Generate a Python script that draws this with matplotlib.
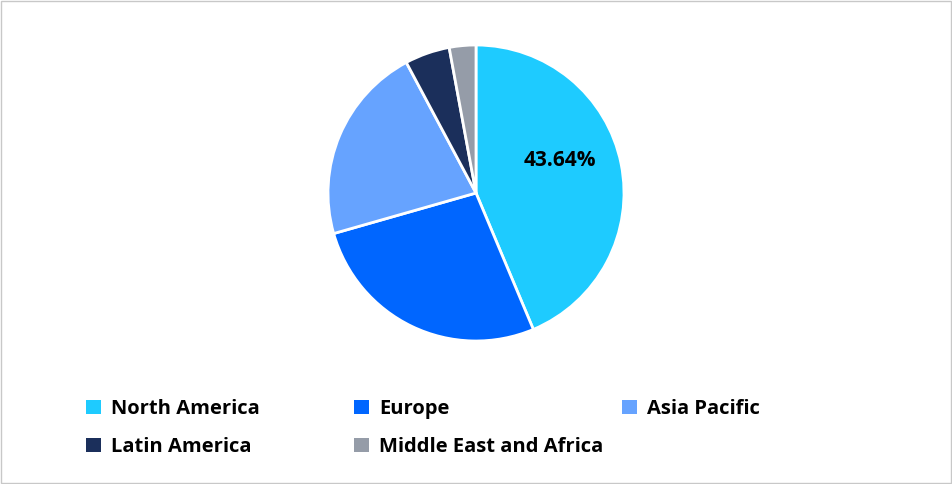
import matplotlib.pyplot as plt
from matplotlib.patches import Patch, Rectangle

regions = ["North America", "Europe", "Asia Pacific", "Latin America", "Middle East and Africa"]
shares = [43.64, 26.9, 21.6, 4.9, 2.9]
colors = ["#1ECBFF", "#0066FF", "#66A3FF", "#1B2F5B", "#959CA8"]

plt.rcParams['font.family'] = ['Open Sans', 'DejaVu Sans']

W, H = 953, 484
fig = plt.figure(figsize=(W / 100, H / 100), dpi=100)
fig.patches.append(Rectangle((0.001, 0.002), 0.997, 0.995, transform=fig.transFigure,
                             fill=False, edgecolor="#C8C8C8", lw=1))

cx, cy, r = 476, 193, 148
ax = fig.add_axes([(cx - r) / W, (H - cy - r) / H, 2 * r / W, 2 * r / H])
wedges, _ = ax.pie(shares, colors=colors, startangle=90, counterclock=False,
                   wedgeprops=dict(edgecolor="white", linewidth=2))
ax.set_xlim(-1, 1)
ax.set_ylim(-1, 1)
ax.text(0.57, 0.22, "43.64%", ha="center", va="center", fontsize=15, fontweight="bold")

# legend: 3 columns, 2 rows
col_x = [86, 354, 622]
row_y = [409, 447]
for i, (name, c) in enumerate(zip(regions, colors)):
    x = col_x[i % 3]
    y = row_y[i // 3]
    fig.legend([Patch(facecolor=c, edgecolor="none")], [name], loc="center left",
               bbox_to_anchor=(x / W, 1 - y / H), frameon=False, borderpad=0,
               borderaxespad=0, handlelength=0.75, handleheight=0.75, handletextpad=0.5,
               prop=dict(size=14.5, weight="bold"))

fig.savefig("out.png", dpi=100)
